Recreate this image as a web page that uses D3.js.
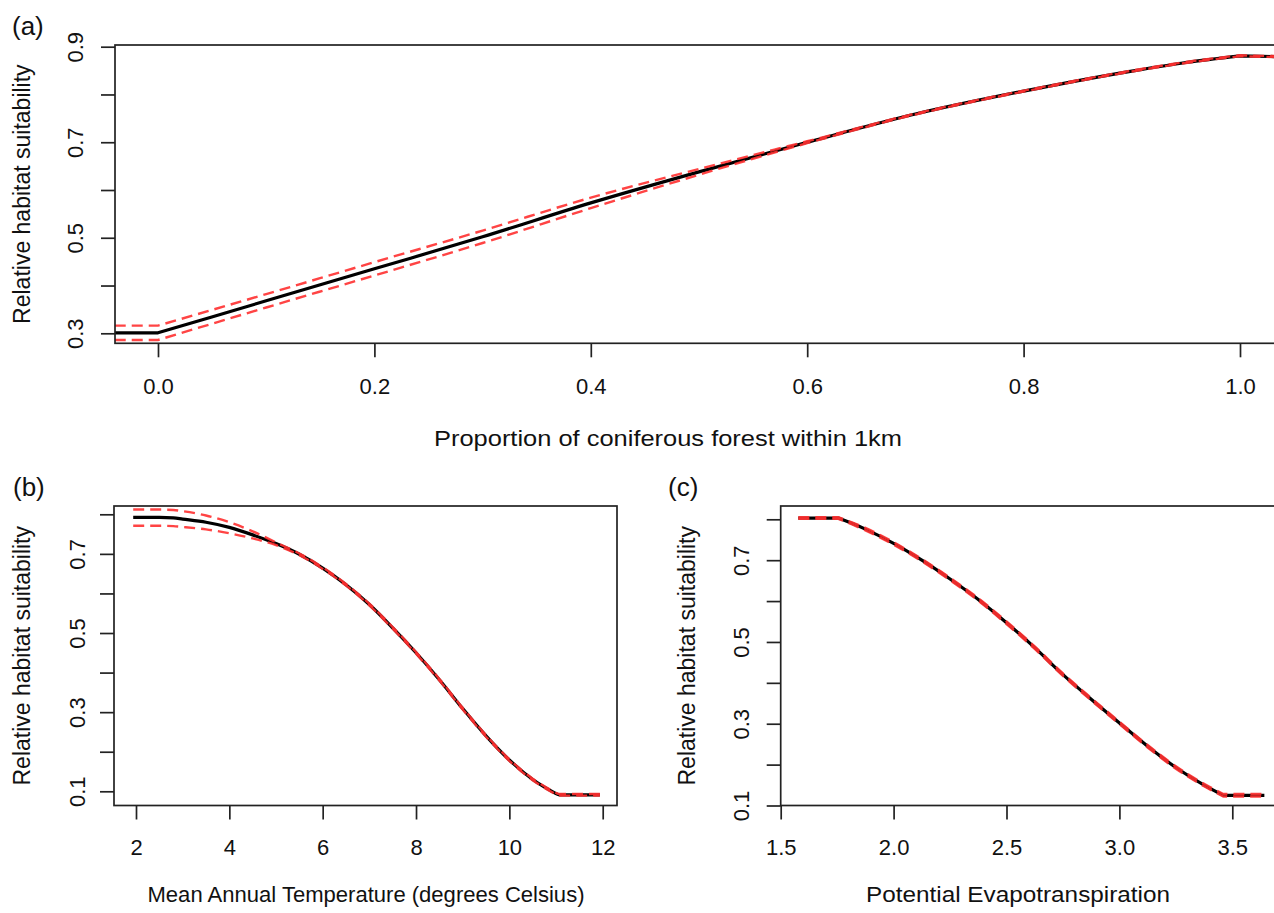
<!DOCTYPE html>
<html>
<head>
<meta charset="utf-8">
<script src="https://cdnjs.cloudflare.com/ajax/libs/d3/7.8.5/d3.min.js"></script>
<style>
  body { margin: 0; background: #fff; }
  svg { display: block; font-family: 'Liberation Sans', Arial, sans-serif; }
</style>
</head>
<body>
<svg width="1274" height="913"></svg>
<script>
// (a) proportion of coniferous forest
var forestX = [-0.04, 0, 0.1, 0.2, 0.3, 0.4, 0.5, 0.6, 0.7, 0.8, 0.9, 0.95, 1.0, 1.04];
var forestFit = [0.301, 0.301, 0.368, 0.435, 0.502, 0.573, 0.638, 0.700, 0.759, 0.807, 0.849, 0.867, 0.881, 0.879];
var forestUpper = [0.316, 0.316, 0.382, 0.449, 0.515, 0.584, 0.644, 0.702, 0.760, 0.808, 0.850, 0.868, 0.882, 0.880];
var forestLower = [0.286, 0.286, 0.354, 0.421, 0.489, 0.562, 0.632, 0.698, 0.758, 0.806, 0.848, 0.866, 0.880, 0.878];
var forestXTicks = [0, 0.2, 0.4, 0.6, 0.8, 1.0];
var forestYTicks = [0.3, 0.4, 0.5, 0.6, 0.7, 0.8, 0.9];

// (b) mean annual temperature
var tempX = [1.94, 2.5, 2.8, 3, 3.5, 4, 4.5, 5, 5.5, 6, 6.5, 7, 7.5, 8, 8.5, 9, 9.5, 10, 10.5, 11, 11.07, 11.94];
var tempFit = [0.792, 0.792, 0.791, 0.788, 0.780, 0.767, 0.748, 0.726, 0.699, 0.664, 0.622, 0.572, 0.513, 0.450, 0.382, 0.309, 0.240, 0.179, 0.130, 0.094, 0.091, 0.091];
var tempUpper = [0.812, 0.812, 0.811, 0.808, 0.797, 0.780, 0.757, 0.729, 0.701, 0.666, 0.624, 0.574, 0.515, 0.452, 0.384, 0.311, 0.242, 0.181, 0.132, 0.096, 0.093, 0.093];
var tempLower = [0.771, 0.771, 0.770, 0.768, 0.762, 0.752, 0.739, 0.722, 0.697, 0.662, 0.620, 0.570, 0.511, 0.448, 0.380, 0.307, 0.238, 0.177, 0.128, 0.092, 0.089, 0.089];
var tempXTicks = [2, 4, 6, 8, 10, 12];
var tempYTicks = [0.1, 0.2, 0.3, 0.4, 0.5, 0.6, 0.7, 0.8];

// (c) potential evapotranspiration
var petX = [1.578, 1.755, 1.875, 2.0, 2.125, 2.25, 2.375, 2.5, 2.625, 2.75, 2.875, 3.0, 3.125, 3.25, 3.375, 3.46, 3.642];
var petFit = [0.803, 0.803, 0.776, 0.741, 0.700, 0.654, 0.604, 0.547, 0.486, 0.420, 0.360, 0.302, 0.245, 0.193, 0.150, 0.125, 0.125];
var petUpper = [0.805, 0.805, 0.779, 0.744, 0.703, 0.657, 0.607, 0.550, 0.489, 0.423, 0.363, 0.305, 0.248, 0.196, 0.153, 0.128, 0.128];
var petLower = [0.801, 0.801, 0.773, 0.738, 0.697, 0.651, 0.601, 0.544, 0.483, 0.417, 0.357, 0.299, 0.242, 0.190, 0.147, 0.122, 0.122];
var petXTicks = [1.5, 2.0, 2.5, 3.0, 3.5];
var petYTicks = [0.1, 0.2, 0.3, 0.4, 0.5, 0.6, 0.7, 0.8];

var yLabelTicks = [0.1, 0.3, 0.5, 0.7, 0.9];

var svg = d3.select('svg');
svg.append('rect').attr('width', 1274).attr('height', 913).attr('fill', '#fff');

var panels = [
  {
    tag: '(a)', tagX: 12, tagY: 35,
    x: forestX, fit: forestFit, upper: forestUpper, lower: forestLower,
    corners: [1, 12],   // index where the clamped flat parts meet the curve
    xTicks: forestXTicks, yTicks: forestYTicks, xFormat: d3.format('.1f'),
    xDomain: [0, 1], xRange: [158, 1240],
    yDomain: [0.3, 0.9], yRange: [333.3, 46.7],
    box: { left: 115, right: 1283, top: 45, bottom: 343.3 },
    xLabelGap: 51, yLabelGap: 32,
    xTitle: 'Proportion of coniferous forest within 1km', xTitleX: 668, xTitleY: 446, xTitleLen: 468,
    yTitleX: 29.5
  },
  {
    tag: '(b)', tagX: 13, tagY: 496,
    x: tempX, fit: tempFit, upper: tempUpper, lower: tempLower,
    corners: [19],
    xTicks: tempXTicks, yTicks: tempYTicks, xFormat: d3.format('d'),
    xDomain: [2, 12], xRange: [136, 602.7],
    yDomain: [0.1, 0.8], yRange: [791.3, 514.3],
    box: { left: 114, right: 617, top: 506, bottom: 805.5 },
    xLabelGap: 49, yLabelGap: 29,
    xTitle: 'Mean Annual Temperature (degrees Celsius)', xTitleX: 366, xTitleY: 902, xTitleLen: 437,
    yTitleX: 29.5
  },
  {
    tag: '(c)', tagX: 668, tagY: 496,
    x: petX, fit: petFit, upper: petUpper, lower: petLower,
    corners: [1, 15],
    xTicks: petXTicks, yTicks: petYTicks, xFormat: d3.format('.1f'),
    xDomain: [1.5, 3.5], xRange: [780.7, 1232.3],
    yDomain: [0.1, 0.8], yRange: [805.5, 519.3],
    box: { left: 780.7, right: 1283, top: 506, bottom: 805.5 },
    xLabelGap: 49, yLabelGap: 32,
    xTitle: 'Potential Evapotranspiration', xTitleX: 1018, xTitleY: 902, xTitleLen: 304,
    yTitleX: 695
  }
];

panels.forEach(function(p, i) {
  var g = svg.append('g');
  var xScale = d3.scaleLinear().domain(p.xDomain).range(p.xRange);
  var yScale = d3.scaleLinear().domain(p.yDomain).range(p.yRange);
  var b = p.box;

  // clip curves to the plot box
  g.append('clipPath').attr('id', 'clip' + i)
    .append('rect')
    .attr('x', b.left).attr('y', b.top)
    .attr('width', b.right - b.left).attr('height', b.bottom - b.top);

  var line = d3.line()
    .x(function(d) { return xScale(d[0]); })
    .y(function(d) { return yScale(d[1]); })
    .curve(d3.curveMonotoneX);

  // smooth pieces joined at the sharp corners
  var pathFor = function(ys) {
    var pts = p.x.map(function(v, j) { return [v, ys[j]]; });
    var cuts = [0].concat(p.corners, [pts.length - 1]);
    var d = '';
    for (var k = 0; k < cuts.length - 1; k++) {
      var seg = line(pts.slice(cuts[k], cuts[k + 1] + 1));
      d += k === 0 ? seg : seg.replace(/^M[^LC]*/, '');
    }
    return d;
  };

  var curves = g.append('g').attr('clip-path', 'url(#clip' + i + ')');
  curves.append('path')
    .attr('d', pathFor(p.fit))
    .attr('fill', 'none')
    .attr('stroke', '#000')
    .attr('stroke-width', 3.2)
    .attr('stroke-linejoin', 'round');
  [p.upper, p.lower].forEach(function(ys) {
    curves.append('path')
      .attr('d', pathFor(ys))
      .attr('fill', 'none')
      .attr('stroke', '#ff3030')
      .attr('stroke-opacity', 0.9)
      .attr('stroke-width', 2.4)
      .attr('stroke-dasharray', '11,6');
  });

  // frame
  g.append('rect')
    .attr('x', b.left).attr('y', b.top)
    .attr('width', b.right - b.left).attr('height', b.bottom - b.top)
    .attr('fill', 'none')
    .attr('stroke', '#222')
    .attr('stroke-width', 1.7);

  // axes, R style: outward ticks, rotated y labels
  var xAxis = d3.axisBottom(xScale).tickValues(p.xTicks).tickFormat(p.xFormat)
    .tickSize(14).tickSizeOuter(0);
  var xg = g.append('g')
    .attr('transform', 'translate(0,' + b.bottom + ')')
    .call(xAxis);
  xg.select('.domain').remove();
  xg.selectAll('line').attr('stroke', '#222').attr('stroke-width', 1.7);
  xg.selectAll('text')
    .attr('y', p.xLabelGap).attr('dy', 0)
    .attr('fill', '#111')
    .style('font-size', '22px')
    .style('font-family', "'Liberation Sans', Arial, sans-serif");

  var yAxis = d3.axisLeft(yScale).tickValues(p.yTicks)
    .tickFormat(function(d) {
      return yLabelTicks.some(function(t) { return Math.abs(t - d) < 1e-9; }) ? d3.format('.1f')(d) : '';
    })
    .tickSize(14).tickSizeOuter(0);
  var yg = g.append('g')
    .attr('transform', 'translate(' + b.left + ',0)')
    .call(yAxis);
  yg.select('.domain').remove();
  yg.selectAll('line').attr('stroke', '#222').attr('stroke-width', 1.7);
  yg.selectAll('text')
    .attr('transform', 'rotate(-90)')
    .attr('x', 0).attr('y', -p.yLabelGap).attr('dy', 0)
    .attr('text-anchor', 'middle')
    .attr('fill', '#111')
    .style('font-size', '22px')
    .style('font-family', "'Liberation Sans', Arial, sans-serif");

  // titles
  g.append('text')
    .attr('x', p.xTitleX).attr('y', p.xTitleY)
    .attr('text-anchor', 'middle')
    .attr('textLength', p.xTitleLen)
    .attr('lengthAdjust', 'spacingAndGlyphs')
    .attr('fill', '#111')
    .style('font-size', '22px')
    .text(p.xTitle);
  var cy = (b.top + b.bottom) / 2;
  g.append('text')
    .attr('transform', 'translate(' + p.yTitleX + ',' + cy + ') rotate(-90)')
    .attr('text-anchor', 'middle')
    .attr('fill', '#111')
    .style('font-size', '23px')
    .text('Relative habitat suitability');
  g.append('text')
    .attr('x', p.tagX).attr('y', p.tagY)
    .attr('fill', '#111')
    .style('font-size', '26px')
    .text(p.tag);
});
</script>
</body>
</html>
